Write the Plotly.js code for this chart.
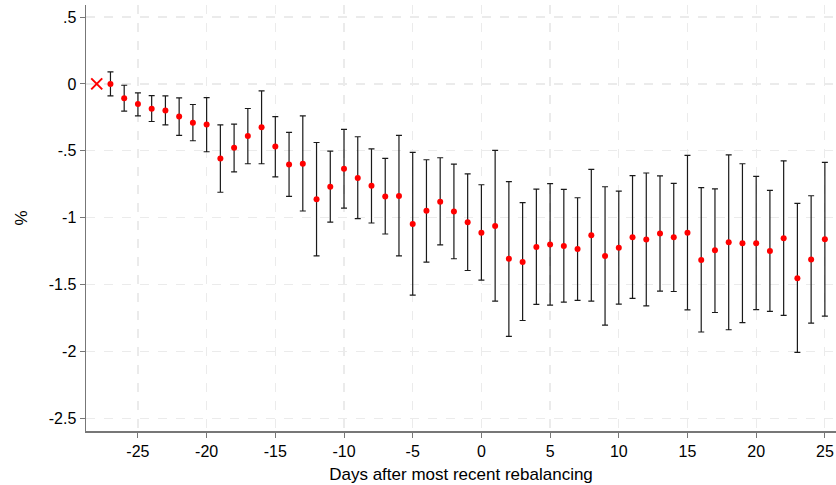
<!DOCTYPE html>
<html>
<head>
<meta charset="utf-8">
<script src="https://cdn.plot.ly/plotly-3.0.1.min.js"></script>
<style>html,body{margin:0;padding:0;background:#fff;} #chart{width:836px;height:485px;}</style>
</head>
<body>
<div id="chart"></div>
<script>
// Reference day (omitted category)
const refDay = [-28];
const refVal = [0];

// Event days and estimates
const days = [-27,-26,-25,-24,-23,-22,-21,-20,-19,-18,-17,-16,-15,-14,-13,-12,-11,-10,-9,-8,-7,-6,-5,-4,-3,-2,-1,0,1,2,3,4,5,6,7,8,9,10,11,12,13,14,15,16,17,18,19,20,21,22,23,24,25];
const est = [0,-0.107,-0.151,-0.186,-0.199,-0.244,-0.291,-0.303,-0.557,-0.478,-0.39,-0.324,-0.468,-0.602,-0.597,-0.863,-0.769,-0.634,-0.704,-0.761,-0.841,-0.838,-1.047,-0.948,-0.881,-0.953,-1.035,-1.112,-1.062,-1.308,-1.331,-1.219,-1.201,-1.211,-1.234,-1.132,-1.286,-1.225,-1.146,-1.164,-1.119,-1.146,-1.112,-1.316,-1.243,-1.184,-1.191,-1.191,-1.249,-1.154,-1.453,-1.313,-1.162];
const ciHi = [0.09,-0.01,-0.067,-0.087,-0.09,-0.104,-0.154,-0.102,-0.306,-0.301,-0.184,-0.052,-0.245,-0.363,-0.239,-0.438,-0.502,-0.34,-0.395,-0.485,-0.557,-0.385,-0.512,-0.567,-0.552,-0.6,-0.672,-0.754,-0.497,-0.731,-0.888,-0.786,-0.746,-0.788,-0.851,-0.639,-0.769,-0.801,-0.686,-0.666,-0.687,-0.743,-0.534,-0.776,-0.784,-0.53,-0.597,-0.691,-0.796,-0.575,-0.893,-0.836,-0.587];
const ciLo = [-0.09,-0.204,-0.239,-0.281,-0.306,-0.385,-0.425,-0.507,-0.81,-0.657,-0.597,-0.597,-0.695,-0.841,-0.95,-1.286,-1.034,-0.928,-1.007,-1.04,-1.122,-1.286,-1.579,-1.333,-1.204,-1.307,-1.395,-1.467,-1.624,-1.888,-1.769,-1.649,-1.654,-1.631,-1.619,-1.624,-1.803,-1.646,-1.603,-1.659,-1.549,-1.552,-1.689,-1.855,-1.709,-1.838,-1.784,-1.687,-1.701,-1.731,-2.007,-1.788,-1.736];

// Tick labels
const xTicks = [-25,-20,-15,-10,-5,0,5,10,15,20,25];
const xTickText = ["-25","-20","-15","-10","-5","0","5","10","15","20","25"];
const yTicks = [0.5,0,-0.5,-1,-1.5,-2,-2.5];
const yTickText = [".5","0","-.5","-1","-1.5","-2","-2.5"];

const errPlus = est.map((v,i)=>ciHi[i]-v);
const errMinus = est.map((v,i)=>v-ciLo[i]);

const tickFont = {family: "Liberation Sans, Arial, Helvetica, sans-serif", size: 16, color: "#000"};
const titleFont = {family: "Liberation Sans, Arial, Helvetica, sans-serif", size: 17, color: "#000"};

const traces = [
  {
    x: days, y: est, type: "scatter", mode: "markers",
    marker: {color: "#ff0000", size: 6},
    error_y: {type: "data", symmetric: false, array: errPlus, arrayminus: errMinus,
              color: "#1a1a1a", thickness: 1.2, width: 3},
    hoverinfo: "x+y", showlegend: false
  },
  {
    x: refDay, y: refVal, type: "scatter", mode: "markers",
    marker: {color: "#ff0000", size: 11, symbol: "x-thin", line: {color: "#ff0000", width: 2}},
    showlegend: false
  }
];

const layout = {
  width: 836, height: 485,
  margin: {l: 86, r: 0, t: 5, b: 54},
  paper_bgcolor: "#fff", plot_bgcolor: "#fff",
  font: tickFont,
  showlegend: false,
  xaxis: {
    range: [-28.78, 25.81],
    tickvals: xTicks, ticktext: xTickText,
    ticks: "outside", ticklen: 5, tickcolor: "#777", tickwidth: 1,
    showline: true, linecolor: "#777", linewidth: 1.5,
    showgrid: true, gridcolor: "#ebebeb", gridwidth: 1.2, griddash: "dash",
    zeroline: false,
    tickfont: tickFont,
    title: {text: "Days after most recent rebalancing", font: titleFont, standoff: 9}
  },
  yaxis: {
    range: [-2.595, 0.59],
    tickvals: yTicks, ticktext: yTickText,
    ticks: "outside", ticklen: 5, tickcolor: "#777", tickwidth: 1,
    showline: true, linecolor: "#777", linewidth: 1.5,
    showgrid: true, gridcolor: "#ebebeb", gridwidth: 1.2, griddash: "dash",
    zeroline: false,
    tickfont: tickFont,
    title: {text: "%", font: titleFont, standoff: 17}
  },
  shapes: [{
    type: "line", xref: "paper", yref: "y", x0: 0, x1: 1, y0: 0, y1: 0,
    line: {color: "#a0a0a0", width: 1.5, dash: "dash"}, layer: "below"
  }]
};

Plotly.newPlot("chart", traces, layout, {displayModeBar: false, staticPlot: true});
</script>
</body>
</html>
